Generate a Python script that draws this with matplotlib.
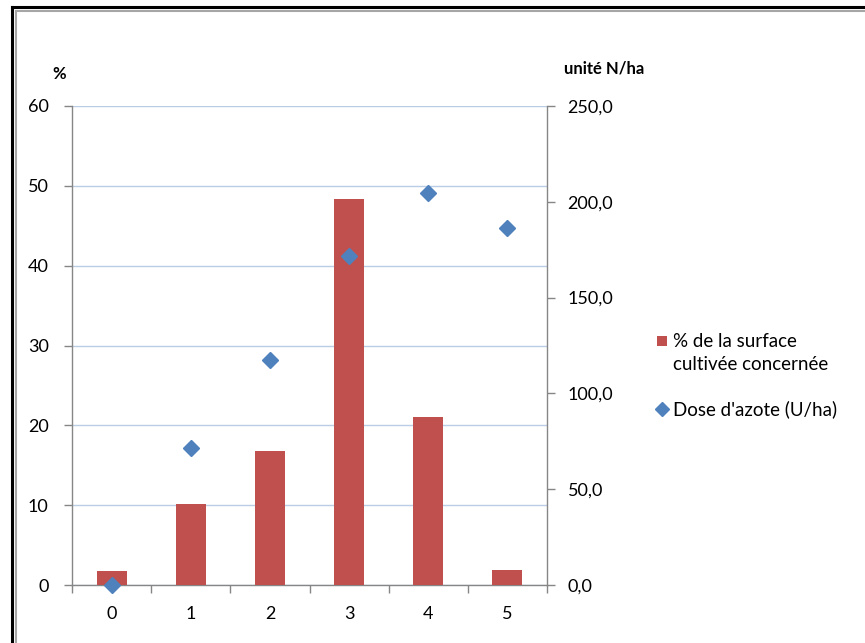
import matplotlib
matplotlib.use("Agg")
import matplotlib.pyplot as plt
from matplotlib.lines import Line2D
from matplotlib.patches import Rectangle
import numpy as np

categories = ["0", "1", "2", "3", "4", "5"]
surface_pct = [1.7, 10.1, 16.8, 48.4, 21.0, 1.9]
dose_azote = [0.0, 71.3, 117.4, 171.5, 204.7, 186.4]
left_ticks = [0, 10, 20, 30, 40, 50, 60]
right_ticks = [0, 50, 100, 150, 200, 250]
right_labels = ["0,0", "50,0", "100,0", "150,0", "200,0", "250,0"]
legend_labels = ["% de la surface\ncultivée concernée", "Dose d'azote (U/ha)"]

plt.rcParams['font.family'] = ['Lato', 'DejaVu Sans']

W, H = 865, 643
FS = 13
LFS = 13.5
BAR_C = "#C0504D"
DOT_C = "#4F81BD"
fig = plt.figure(figsize=(W / 100, H / 100), dpi=100)

ax = fig.add_axes([72.3 / W, 1 - 585 / H, (546.7 - 72.3) / W, (585 - 106) / H])
ax2 = ax.twinx()

x = np.arange(len(categories))
ax.bar(x, surface_pct, width=0.38, color=BAR_C, zorder=3)
ax.set_xlim(-0.5, len(categories) - 0.5)
ax.set_ylim(0, 60)
ax.set_yticks(left_ticks)
ax.set_yticklabels([str(t) for t in left_ticks])
ax.yaxis.grid(True, color="#B9CDE5", linewidth=1.0, zorder=0)
ax.set_axisbelow(True)

ax.set_xticks(x)
ax.set_xticklabels(categories)
ax.set_xticks(np.arange(-0.5, len(categories) + 0.5, 1.0), minor=True)
ax.tick_params(axis="x", which="major", length=0, pad=15, labelsize=FS, colors="black")
ax.tick_params(axis="x", which="minor", length=6, width=1, color="#868686", direction="out")
ax.tick_params(axis="y", length=6, width=1, color="#868686", direction="out", pad=11,
               labelsize=FS, labelcolor="black")

ax2.plot(x, dose_azote, linestyle="none", marker="D", markersize=8,
         color=DOT_C, zorder=4, clip_on=False)
ax2.set_ylim(0, 250)
ax2.set_yticks(right_ticks)
ax2.set_yticklabels(right_labels)
ax2.tick_params(axis="y", length=6, width=1, color="#868686", direction="out", pad=9,
                labelsize=FS, labelcolor="black")

for a in (ax, ax2):
    a.spines["top"].set_visible(False)
    for s in ("left", "right", "bottom"):
        a.spines[s].set_color("#868686")
        a.spines[s].set_linewidth(1.0)
ax.spines["right"].set_visible(False)
ax2.spines["left"].set_visible(False)
ax2.spines["bottom"].set_visible(False)

fig.text(59 / W, 1 - 74 / H, "%", ha="center", va="center", fontsize=12, fontweight="bold")
fig.text(564 / W, 1 - 68 / H, "unité N/ha", ha="left", va="center", fontsize=12, fontweight="bold")

# Legend drawn manually (Excel style: marker aligned with the first text line)
fig.add_artist(Rectangle((657 / W, 1 - 346 / H), 10 / W, 10 / H, facecolor=BAR_C,
                         edgecolor="none", transform=fig.transFigure))
fig.text(673 / W, 1 - 333 / H, legend_labels[0], ha="left", va="top", fontsize=LFS,
         linespacing=1.45, transform=fig.transFigure)
fig.add_artist(Line2D([662 / W], [1 - 409 / H], linestyle="none", marker="D", markersize=7,
                      color=DOT_C, transform=fig.transFigure))
fig.text(673 / W, 1 - 409 / H, legend_labels[1], ha="left", va="center", fontsize=LFS,
         transform=fig.transFigure)

# Outer frame (black) and inner frame (gray)
fig.add_artist(Line2D([12 / W, 12 / W], [0, 1 - 7 / H], color="black", linewidth=2.2,
                      transform=fig.transFigure))
fig.add_artist(Line2D([12 / W, 1], [1 - 7 / H, 1 - 7 / H], color="black", linewidth=2.2,
                      transform=fig.transFigure))
fig.add_artist(Line2D([16 / W, 16 / W], [0, 1 - 10.5 / H], color="#A6A6A6", linewidth=1.5,
                      transform=fig.transFigure))
fig.add_artist(Line2D([16 / W, 1], [1 - 10.5 / H, 1 - 10.5 / H], color="#A6A6A6", linewidth=1.5,
                      transform=fig.transFigure))

fig.savefig("out.png", dpi=100)
